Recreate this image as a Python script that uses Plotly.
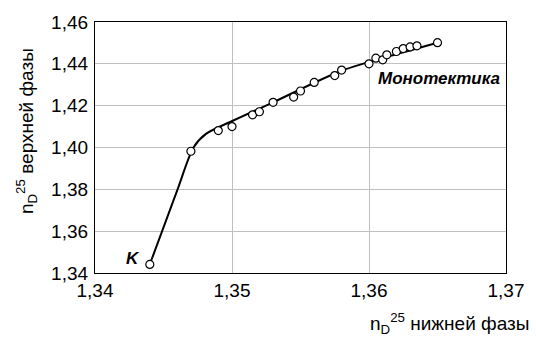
import plotly.graph_objects as go

# Experimental points (n_D^25 lower phase, n_D^25 upper phase)
x_pts = [1.3440, 1.3470, 1.3490, 1.3500, 1.3515, 1.3520, 1.3530, 1.3545, 1.3550,
         1.3560, 1.3575, 1.3580, 1.3600, 1.3605, 1.3610, 1.3613, 1.3620, 1.3625,
         1.3630, 1.3635, 1.3650]
y_pts = [1.3441, 1.3982, 1.4081, 1.4100, 1.4156, 1.4171, 1.4216, 1.4241, 1.4270,
         1.4311, 1.4344, 1.4370, 1.4400, 1.4427, 1.4419, 1.4443, 1.4459, 1.4473,
         1.4481, 1.4486, 1.4501]

# Smooth fitted curve (binodal / monotectic line)
x_fit = [1.3440, 1.3460, 1.3472, 1.3481, 1.3501, 1.3530, 1.3580, 1.3625, 1.3650]
y_fit = [1.3441, 1.3795, 1.4001, 1.4065, 1.4129, 1.4216, 1.4367, 1.4455, 1.4501]

x_ticks = [1.34, 1.35, 1.36, 1.37]
y_ticks = [1.34, 1.36, 1.38, 1.40, 1.42, 1.44, 1.46]

FONT = "Liberation Sans, Arial, sans-serif"

fig = go.Figure()
fig.add_trace(go.Scatter(x=x_fit, y=y_fit, mode="lines",
                         line=dict(color="black", width=2, shape="spline", smoothing=0.8),
                         hoverinfo="skip", showlegend=False))
fig.add_trace(go.Scatter(x=x_pts, y=y_pts, mode="markers",
                         marker=dict(symbol="circle", size=8, color="white",
                                     line=dict(color="black", width=1.2)),
                         showlegend=False))

axis_common = dict(showgrid=True, gridcolor="#c0c0c0", gridwidth=1,
                   showline=True, linecolor="black", linewidth=1.2, mirror=True,
                   zeroline=False, ticks="", tickfont=dict(family=FONT, size=19, color="black"))

fig.update_xaxes(range=[1.34, 1.37], tickvals=x_ticks, tickformat=".2f", **axis_common)
fig.update_yaxes(range=[1.34, 1.46], tickvals=y_ticks, tickformat=".2f", ticklabelstandoff=2,
                 **axis_common)

fig.add_annotation(text="<b><i>K</i></b>", x=1.3434, y=1.3468, xref="x", yref="y",
                   showarrow=False, xanchor="right", yanchor="middle",
                   font=dict(family=FONT, size=17, color="black"))
fig.add_annotation(text="<b><i>Монотектика</i></b>", x=1.3697, y=1.4328, xref="x", yref="y",
                   showarrow=False, xanchor="right", yanchor="middle",
                   font=dict(family=FONT, size=17, color="black"))

plot_w = 536 - 95 - 21
plot_h = 340 - 21 - 67
fig.add_annotation(text="n<sub>D</sub><sup>25</sup> верхней фазы", textangle=-90,
                   x=(25 - 95) / plot_w, y=(273 - 131) / plot_h,
                   xref="paper", yref="paper", showarrow=False,
                   xanchor="center", yanchor="middle",
                   font=dict(family=FONT, size=19, color="black"))
fig.add_annotation(text="n<sub>D</sub><sup>25</sup> нижней фазы",
                   x=1.0, y=0, xref="paper", yref="paper", showarrow=False,
                   xanchor="right", yanchor="top", yshift=-35, xshift=25,
                   font=dict(family=FONT, size=19, color="black"))

fig.update_layout(width=536, height=340, margin=dict(l=95, r=21, t=21, b=67),
                  plot_bgcolor="white", paper_bgcolor="white", separators=", ",
                  font=dict(family=FONT, color="black"))

fig.write_html("out.html")
